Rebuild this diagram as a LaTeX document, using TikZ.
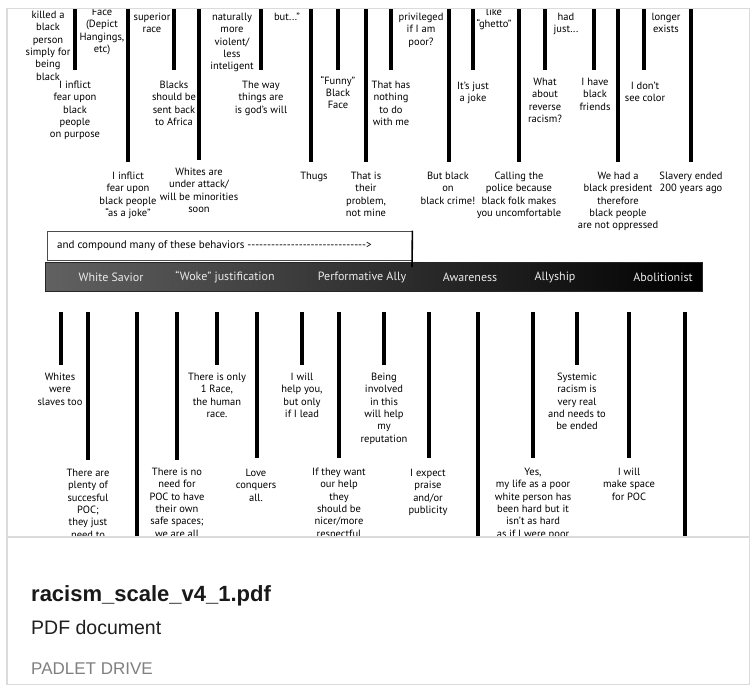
\documentclass[tikz,border=0pt]{standalone}
\usepackage{fontspec}
\setmainfont{PT Sans}
\newfontfamily\capfont{Liberation Sans}
\newcommand\dashrun[1]{\foreach\k in {1,...,#1}{-\kern0pt}}
\newcommand\tnode[4]{\node[txt] (#1) at (#2,#3-4) {#4};}
\begin{document}
\begin{tikzpicture}[x=1pt,y=-1pt,
  bar/.style={line width=3.7pt, black},
  txt/.style={align=center, inner sep=0pt, anchor=north, font=\fontsize{10.5}{12.3}\selectfont, text=black},
  scl/.style={text=black!8, font=\fontsize{12}{14}\selectfont, inner sep=0pt},
  cardline/.style={draw=black!14, line width=1.6pt}]
\useasboundingbox (0,0) rectangle (751,687);
\fill[white] (0,0) rectangle (751,687);

\begin{scope}
\clip (7,8.5) rectangle (749.5,537);
% top bars
\foreach \n/\x/\e in {1/75/70, 2/128/162, 3/174/70, 4/199/160, 5/261/70, 6/311/162, 7/338/70, 8/366/162, 9/391/70, 10/449/162, 11/473/70, 12/519/162, 13/545/70, 14/594/70, 15/618/162, 16/644/70, 17/691/162} {
  \coordinate (tt\n) at (\x,0);
  \coordinate (tb\n) at (\x,\e);
  \draw[bar] (tt\n) -- (tb\n);
}
% bottom bars
\foreach \n/\x/\e in {1/61/365, 2/88/460, 3/137/560, 4/177/460, 5/217/365, 6/257/458, 7/302/365, 8/339/458, 9/384/365, 10/429/458, 11/478/560, 12/533/458, 13/577/365, 14/629/458, 15/685/560} {
  \coordinate (bt\n) at (\x,312);
  \coordinate (bb\n) at (\x,\e);
  \draw[bar] (bt\n) -- (bb\n);
}
% top texts
\tnode{a1}{48}{15}{killed a\\black\\person\\simply for\\being\\black}
\tnode{a2}{102}{12}{Face\\(Depict\\Hangings,\\etc)}
\tnode{a3}{152}{17}{superior\\race}
\tnode{a4}{232}{17}{naturally\\more\\violent/\\less\\inteligent}
\tnode{a5}{287}{17}{but...”}
\tnode{a6}{421}{17}{privileged\\if I am\\poor?}
\tnode{a7}{494}{12}{like\\“ghetto”}
\tnode{a8}{566}{17}{had\\just...}
\tnode{a9}{666}{17}{longer\\exists}
% below short bars
\tnode{b1}{75}{85}{I inflict\\fear upon\\black\\people\\on purpose}
\tnode{b2}{174}{85}{Blacks\\should be\\sent back\\to Africa}
\tnode{b3}{261}{85}{The way\\things are\\is god’s will}
\tnode{b4}{338}{80}{“Funny”\\Black\\Face}
\tnode{b5}{391}{85}{That has\\nothing\\to do\\with me}
\tnode{b6}{473}{86}{It’s just\\a joke}
\tnode{b7}{545}{82}{What\\about\\reverse\\racism?}
\tnode{b8}{595}{82}{I have\\black\\friends}
\tnode{b9}{645}{86}{I don’t\\see color}
% below long bars
\tnode{c1}{128}{176}{I inflict\\fear upon\\black people\\“as a joke”}
\tnode{c2}{199}{172}{Whites are\\under attack/\\will be minorities\\soon}
\tnode{c3}{314}{176}{Thugs}
\tnode{c4}{366}{176}{That is\\their\\problem,\\not mine}
\tnode{c5}{448}{176}{But black\\on\\black crime!}
\tnode{c6}{519}{176}{Calling the\\police because\\black folk makes\\you uncomfortable}
\tnode{c7}{618}{176}{We had a\\black president\\therefore\\black people\\are not oppressed}
\tnode{c8}{691}{176}{Slavery ended\\200 years ago}
% bottom texts
\tnode{d1}{60}{377}{Whites\\were\\slaves too}
\tnode{d2}{88}{473}{There are\\plenty of\\succesful\\POC;\\they just\\need to}
\tnode{d3}{177}{472}{There is no\\need for\\POC to have\\their own\\safe spaces;\\we are all}
\tnode{d4}{217}{377}{There is only\\1 Race,\\the human\\race.}
\tnode{d5}{256}{473}{Love\\conquers\\all.}
\tnode{d6}{302}{377}{I will\\help you,\\but only\\if I lead}
\tnode{d7}{339}{472}{If they want\\our help\\they\\should be\\nicer/more\\respectful}
\tnode{d8}{384}{377}{Being\\involved\\in this\\will help\\my\\reputation}
\tnode{d9}{428}{473}{I expect\\praise\\and/or\\publicity}
\tnode{d10}{533}{472}{Yes,\\my life as a poor\\white person has\\been hard but it\\isn’t as hard\\as if I were poor}
\tnode{d11}{577}{377}{Systemic\\racism is\\very real\\and needs to\\be ended}
\tnode{d12}{629}{472}{I will\\make space\\for POC}

% compound box
\node[draw=black!70, line width=0.8pt, minimum width=365pt, minimum height=29pt, inner sep=0pt] (cbox) at (229.5,245.5) {};
\node[anchor=west, inner sep=0pt, font=\fontsize{11}{13}\selectfont] (ctext) at (57,246) {and compound many of these behaviors \dashrun{30}>};
% scale bar
\node[draw=black!85, line width=0.8pt, left color=black!62, right color=black, minimum width=657pt, minimum height=29pt, inner sep=0pt] (sbar) at (373.5,276.5) {};
\coordinate (edgeend) at (412,267);
\draw[line width=1.6pt] (cbox.north east) -- (edgeend);
\node[scl] (s1) at (111,277) {White Savior};
\node[scl] (s2) at (225,277) {“Woke” justification};
\node[scl] (s3) at (362,277) {Performative Ally};
\node[scl] (s4) at (470,277) {Awareness};
\node[scl] (s5) at (555,277) {Allyship};
\node[scl] (s6) at (663,277) {Abolitionist};
\end{scope}

% card frame
\draw[cardline] (7,8.5) rectangle (749.5,684.5);
\draw[cardline] (7,537) -- (749.5,537);
% caption
\node[anchor=base west, inner sep=0pt, text=black!90, font=\capfont\bfseries\fontsize{22}{26}\selectfont] (title) at (31,601) {racism\_scale\_v4\_1.pdf};
\node[anchor=base west, inner sep=0pt, text=black!88, font=\capfont\fontsize{19.5}{23}\selectfont] (sub) at (31,634) {PDF document};
\node[anchor=base west, inner sep=0pt, text=black!50, font=\capfont\fontsize{17}{20}\selectfont] (src) at (31,674) {PADLET DRIVE};
\end{tikzpicture}
\end{document}
